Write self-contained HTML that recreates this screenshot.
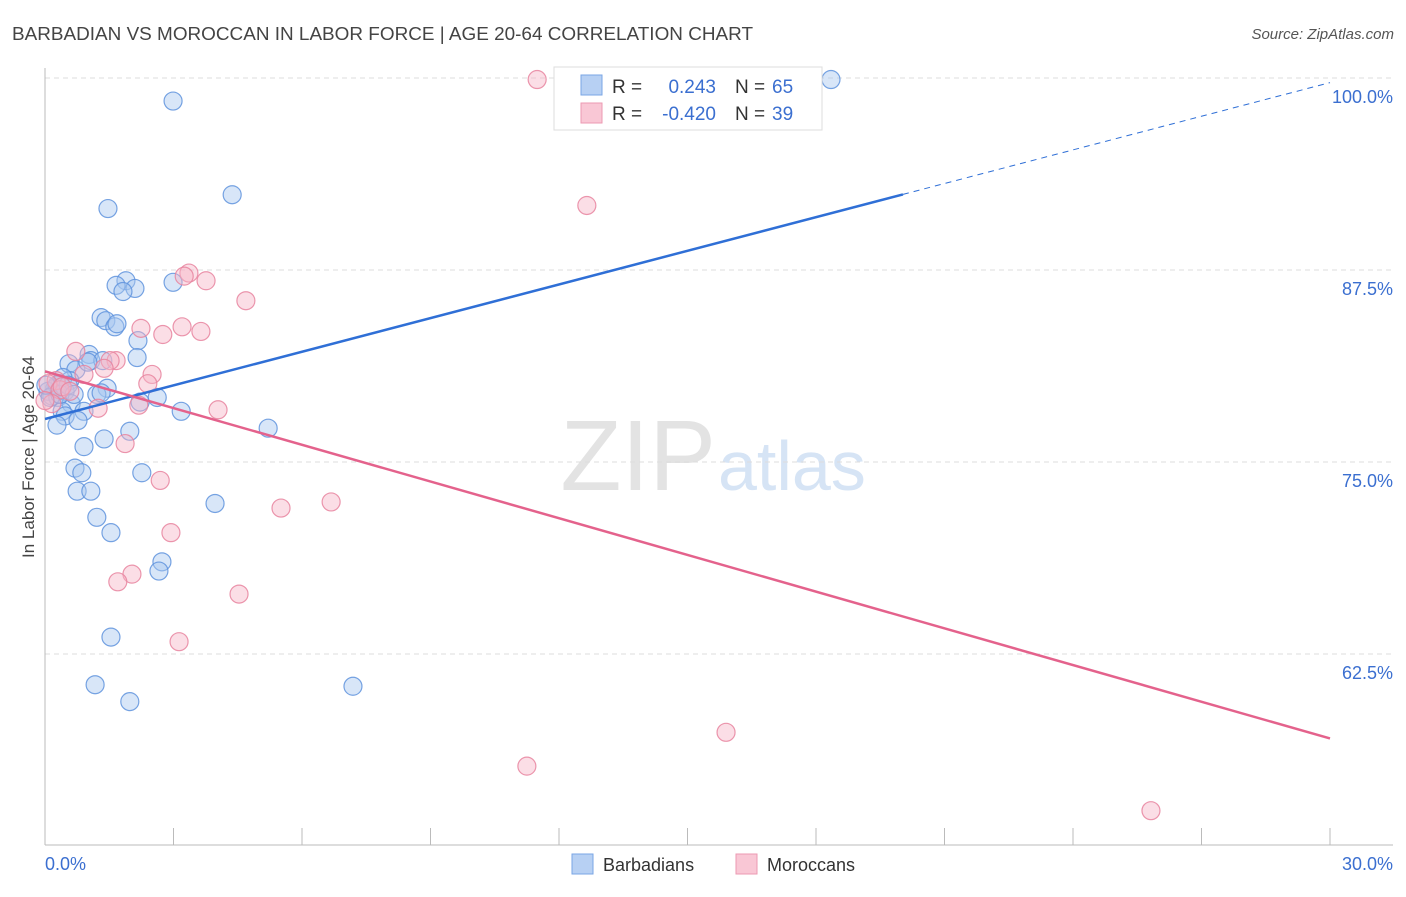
<!DOCTYPE html>
<html><head><meta charset="utf-8"><style>
body{margin:0;background:#fff;font-family:"Liberation Sans",sans-serif}
svg text{font-family:"Liberation Sans",sans-serif}
</style></head><body>
<svg id="chart" width="1406" height="892" xmlns="http://www.w3.org/2000/svg">
<text x="12" y="40" font-size="18" fill="#444" textLength="741" lengthAdjust="spacingAndGlyphs">BARBADIAN VS MOROCCAN IN LABOR FORCE | AGE 20-64 CORRELATION CHART</text>
<text x="1394" y="39" font-size="15" fill="#555" text-anchor="end" font-style="italic">Source: ZipAtlas.com</text>
<text x="716" y="490" font-size="100" fill="#e3e3e3" text-anchor="end" font-family="Liberation Serif">ZIP</text>
<text x="718" y="490" font-size="70" fill="#d6e4f5">atlas</text>
<g id="grid"></g>
<g id="axes"></g>
<g id="points"></g>
<g id="lines"></g>
<text transform="translate(34,457) rotate(-90)" font-size="17" fill="#444" text-anchor="middle">In Labor Force | Age 20-64</text>
<g>
<rect x="554" y="67" width="268" height="63" fill="#fff" stroke="#ddd"/>
<rect x="581" y="75" width="21" height="20" fill="#b7d0f3" stroke="#7aa6e4"/>
<rect x="581" y="103" width="21" height="20" fill="#f9c7d5" stroke="#ec9ab2"/>
<text x="612" y="93" font-size="19" fill="#333">R =</text>
<text x="716" y="93" font-size="19" fill="#3b6fd0" text-anchor="end">0.243</text>
<text x="735" y="93" font-size="19" fill="#333">N =</text>
<text x="772" y="93" font-size="19" fill="#3b6fd0">65</text>
<text x="612" y="120" font-size="19" fill="#333">R =</text>
<text x="716" y="120" font-size="19" fill="#3b6fd0" text-anchor="end">-0.420</text>
<text x="735" y="120" font-size="19" fill="#333">N =</text>
<text x="772" y="120" font-size="19" fill="#3b6fd0">39</text>
</g>
<g>
<rect x="572" y="854" width="21" height="20" fill="#b7d0f3" stroke="#7aa6e4"/>
<text x="603" y="871" font-size="18" fill="#333">Barbadians</text>
<rect x="736" y="854" width="21" height="20" fill="#f9c7d5" stroke="#ec9ab2"/>
<text x="767" y="871" font-size="18" fill="#333">Moroccans</text>
</g>
</svg>
<script>
const blueX=[2.99,4.37,1.47,18.35,1.89,1.66,2.10,1.82,2.99,1.31,1.42,1.63,2.17,2.15,1.03,1.07,1.35,0.56,0.72,0.58,0.35,0.23,0.07,0.16,0.30,0.47,0.61,1.45,1.21,1.31,2.62,2.22,3.18,0.91,0.40,0.47,0.77,0.28,5.21,1.98,1.38,0.91,2.26,0.70,0.86,0.75,1.07,3.97,1.21,1.54,2.73,2.66,1.54,1.17,7.19,1.98,0.28,0.12,0.42,0.02,0.35,0.54,0.68,1.0,1.68];
const blueY=[98.5,92.4,91.5,99.9,86.8,86.5,86.3,86.1,86.7,84.4,84.2,83.8,82.9,81.8,82.0,81.6,81.6,81.4,81.0,80.3,80.1,79.8,79.6,79.3,79.2,79.6,78.8,79.8,79.4,79.5,79.2,78.9,78.3,78.3,78.3,78.0,77.7,77.4,77.2,77.0,76.5,76.0,74.3,74.6,74.3,73.1,73.1,72.3,71.4,70.4,68.5,67.9,63.6,60.5,60.4,59.4,80.0,79.2,80.5,80.0,79.4,80.0,79.4,81.5,84.0];
const pinkX=[11.49,12.65,3.36,3.25,3.76,4.69,3.2,3.64,2.24,2.75,0.72,1.66,1.52,1.38,0.91,2.5,2.4,0.26,0.07,0.35,0.16,1.24,2.19,4.04,1.87,2.69,6.68,5.51,2.94,2.03,1.70,4.53,3.13,15.9,11.25,25.82,0.40,0.58,0.0];
const pinkY=[99.9,91.7,87.3,87.1,86.8,85.5,83.8,83.5,83.7,83.3,82.2,81.6,81.6,81.1,80.7,80.7,80.1,80.3,80.1,79.7,78.8,78.5,78.7,78.4,76.2,73.8,72.4,72.0,70.4,67.7,67.2,66.4,63.3,57.4,55.2,52.3,79.9,79.6,79.0];
const yTicks=[100,87.5,75,62.5];
const yTickLabels=["100.0%","87.5%","75.0%","62.5%"];
const xTickLabels=["0.0%","30.0%"];
const blueTrend=[77.8,99.7];
const blueSolidEnd=20.03;
const pinkTrend=[80.9,57.0];

const NS="http://www.w3.org/2000/svg";
const X=v=>45+v/30*1285;
const Y=v=>78+(100-v)/12.5*192;
function mk(tag,attrs,parent){const e=document.createElementNS(NS,tag);for(const k in attrs)e.setAttribute(k,attrs[k]);document.getElementById(parent).appendChild(e);return e;}
yTicks.forEach((t,i)=>{
  const g=mk('line',{x1:45,x2:1393,y1:Y(t),y2:Y(t),stroke:'#ddd','stroke-dasharray':'5,4'},'grid');
  
  
  const l=mk('text',{x:1393,y:Y(t)+25,'font-size':18,fill:'#3b6fd0','text-anchor':'end'},'grid');
  l.textContent=yTickLabels[i];
  
  
});
const ax=mk('line',{x1:45,x2:1393,y1:845,y2:845,stroke:'#bbb'},'axes');


const ay=mk('line',{x1:45,x2:45,y1:68,y2:845,stroke:'#bbb'},'axes');


for(let i=0;i<=10;i++){
  const t=mk('line',{x1:X(i*3),x2:X(i*3),y1:828,y2:845,stroke:'#bbb'},'axes');
  
  
}
[[0,'start',45],[30,'end',1393]].forEach((d,i)=>{
  const l=mk('text',{x:d[2],y:870,'font-size':18,fill:'#3b6fd0','text-anchor':d[1]},'axes');
  l.textContent=xTickLabels[i];
  
  
});
function pts(xs,ys,fill,stroke,name){
  xs.forEach((x,i)=>{
    const c=mk('circle',{cx:X(x),cy:Y(ys[i]),r:9,fill:fill,'fill-opacity':0.45,stroke:stroke,'stroke-width':1.2,'stroke-opacity':0.85},'points');
    
    
  });
}
pts(blueX,blueY,'#a9c8f0','#5f93dd','barbadian-point');
pts(pinkX,pinkY,'#f7b6c8','#e8849f','moroccan-point');
const bSlope=(blueTrend[1]-blueTrend[0])/30;
const b1=mk('line',{x1:X(0),y1:Y(blueTrend[0]),x2:X(blueSolidEnd),y2:Y(blueTrend[0]+bSlope*blueSolidEnd),stroke:'#2f6fd6','stroke-width':2.5},'lines');


const b2=mk('line',{x1:X(blueSolidEnd),y1:Y(blueTrend[0]+bSlope*blueSolidEnd),x2:X(30),y2:Y(blueTrend[1]),stroke:'#2f6fd6','stroke-width':1,'stroke-dasharray':'6,5'},'lines');


const p1=mk('line',{x1:X(0),y1:Y(pinkTrend[0]),x2:X(30),y2:Y(pinkTrend[1]),stroke:'#e4628c','stroke-width':2.5},'lines');


</script>
</body></html>
